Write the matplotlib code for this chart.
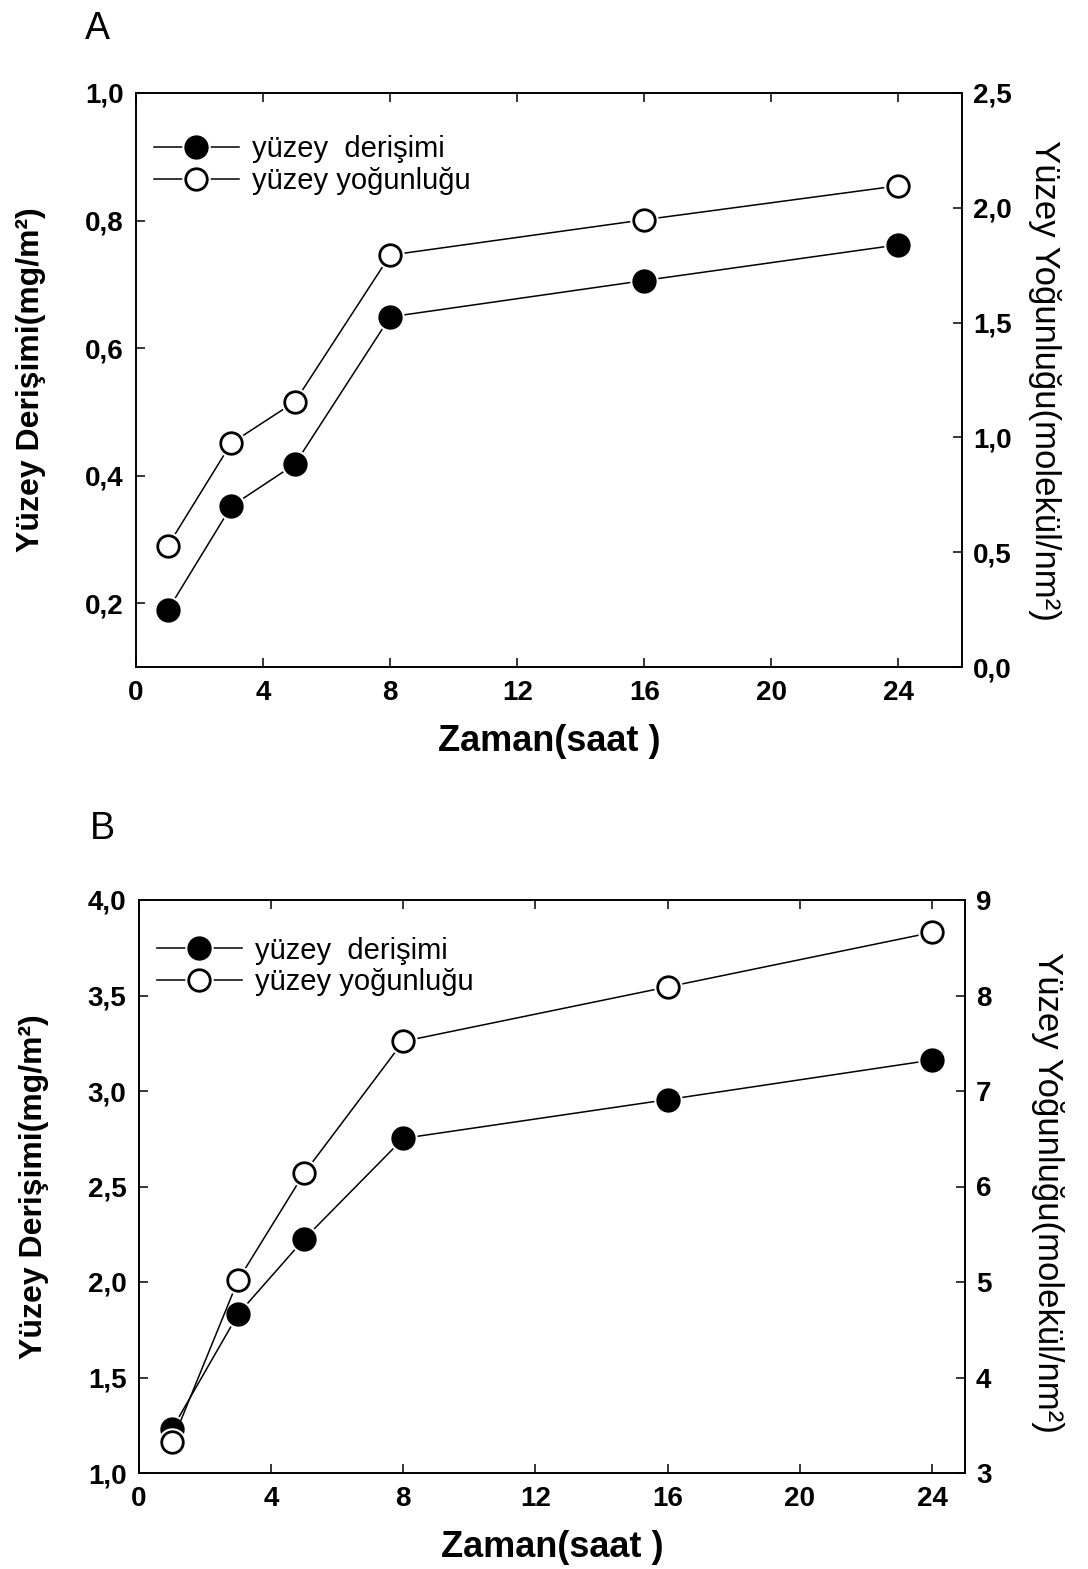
#!/usr/bin/env python3
"""Surface concentration / surface density vs time, two panels (A, B)."""
import matplotlib
matplotlib.use("Agg")
import matplotlib.pyplot as plt
from matplotlib.lines import Line2D
from matplotlib.legend_handler import HandlerTuple
from matplotlib.ticker import FuncFormatter

# --- data ------------------------------------------------------------------
time_h = [1, 3, 5, 8, 16, 24]

conc_a = [0.189, 0.352, 0.418, 0.649, 0.706, 0.762]     # mg/m2, left axis
dens_a = [0.527, 0.975, 1.155, 1.794, 1.948, 2.096]     # molekul/nm2, right axis

conc_b = [1.230, 1.832, 2.225, 2.752, 2.955, 3.162]
dens_b = [3.325, 5.02, 6.14, 7.52, 8.09, 8.66]

xticks = [0, 4, 8, 12, 16, 20, 24]
yticks_a_left = [0.2, 0.4, 0.6, 0.8, 1.0]
yticks_a_right = [0.0, 0.5, 1.0, 1.5, 2.0, 2.5]
yticks_b_left = [1.0, 1.5, 2.0, 2.5, 3.0, 3.5, 4.0]
yticks_b_right = [3, 4, 5, 6, 7, 8, 9]

LEFT_LABEL = "Yüzey Derişimi(mg/m²)"
RIGHT_LABEL = "Yüzey Yoğunluğu(molekül/nm²)"
X_LABEL = "Zaman(saat )"
LEG_CONC = "yüzey  derişimi"
LEG_DENS = "yüzey yoğunluğu"

plt.rcParams["font.family"] = ["Liberation Sans", "DejaVu Sans"]
plt.rcParams["font.weight"] = "bold"

W, H = 1088, 1569
fig = plt.figure(figsize=(W / 100, H / 100), dpi=100)

MS, HALO = 15.5, 20.5
comma1 = FuncFormatter(lambda v, _: f"{v:.1f}".replace(".", ","))
intfmt = FuncFormatter(lambda v, _: f"{v:.0f}")


def series(ax, y, filled):
    ax.plot(time_h, y, "-", color="k", lw=1.1, zorder=2)
    ax.plot(time_h, y, "o", ms=HALO, mfc="w", mec="none", zorder=3)
    ax.plot(time_h, y, "o", ms=MS, mfc="k" if filled else "w", mec="k", mew=2.0, zorder=4)


def handle(filled):
    return (Line2D([], [], color="k", lw=1.1),
            Line2D([], [], ls="none", marker="o", ms=HALO, mfc="w", mec="none"),
            Line2D([], [], ls="none", marker="o", ms=MS, mfc="k" if filled else "w",
                   mec="k", mew=2.0))


def panel(px, letter, letter_px, conc, dens, xmax, yl, ytl, yr, ytr, rfmt, leg_y, rlab_y):
    x0, y0, x1, y1 = px
    ax = fig.add_axes([x0 / W, 1 - y1 / H, (x1 - x0) / W, (y1 - y0) / H])
    ax2 = ax.twinx()
    series(ax, conc, True)
    series(ax2, dens, False)

    ax.set_xlim(0, xmax)
    ax.set_ylim(*yl)
    ax2.set_ylim(*yr)
    ax.set_xticks(xticks)
    ax.set_yticks(ytl)
    ax2.set_yticks(ytr)
    ax.yaxis.set_major_formatter(comma1)
    ax2.yaxis.set_major_formatter(rfmt)

    ax.tick_params(axis="x", direction="in", length=6.5, width=1.1, labelsize=20, pad=9, top=True)
    ax.tick_params(axis="y", direction="in", length=6.5, width=1.1, labelsize=20, pad=9, right=False)
    ax2.tick_params(axis="y", direction="in", length=6.5, width=1.1, labelsize=20, pad=8)
    for a in (ax, ax2):
        for s in a.spines.values():
            s.set_linewidth(1.2)

    ax.set_xlabel(X_LABEL, fontsize=26, fontweight="bold", va="center")
    ax.xaxis.set_label_coords(0.5, -0.13)
    ax.set_ylabel(LEFT_LABEL, fontsize=23, fontweight="bold", va="center", ha="center")
    ax.yaxis.set_label_coords(-0.127, 0.5)
    ax2.set_ylabel(RIGHT_LABEL, fontsize=25, fontweight="normal", rotation=270,
                   va="center", ha="center")
    ax2.yaxis.set_label_coords(1.1, rlab_y)

    leg = ax2.legend([handle(True), handle(False)], [LEG_CONC, LEG_DENS],
                     handler_map={tuple: HandlerTuple(ndivide=1, pad=0)},
                     loc="upper left", bbox_to_anchor=(0.022, leg_y), frameon=False,
                     borderpad=0, borderaxespad=0, handlelength=2.9, handletextpad=0.45,
                     labelspacing=0.12, prop={"size": 21, "weight": "normal"})
    leg.set_zorder(10)

    fig.text(letter_px[0] / W, 1 - letter_px[1] / H, letter, fontsize=27,
             fontweight="normal", va="baseline", ha="left")
    return ax, ax2


panel((136, 93, 962, 667), "A", (85, 39), conc_a, dens_a, 26,
      (0.1, 1.0), yticks_a_left, (0.0, 2.5), yticks_a_right, comma1, 0.926, 0.5)
panel((139, 900, 965, 1473), "B", (90, 839), conc_b, dens_b, 25,
      (1.0, 4.0), yticks_b_left, (3, 9), yticks_b_right, intfmt, 0.936, 0.49)

fig.savefig("out.png", dpi=100)
